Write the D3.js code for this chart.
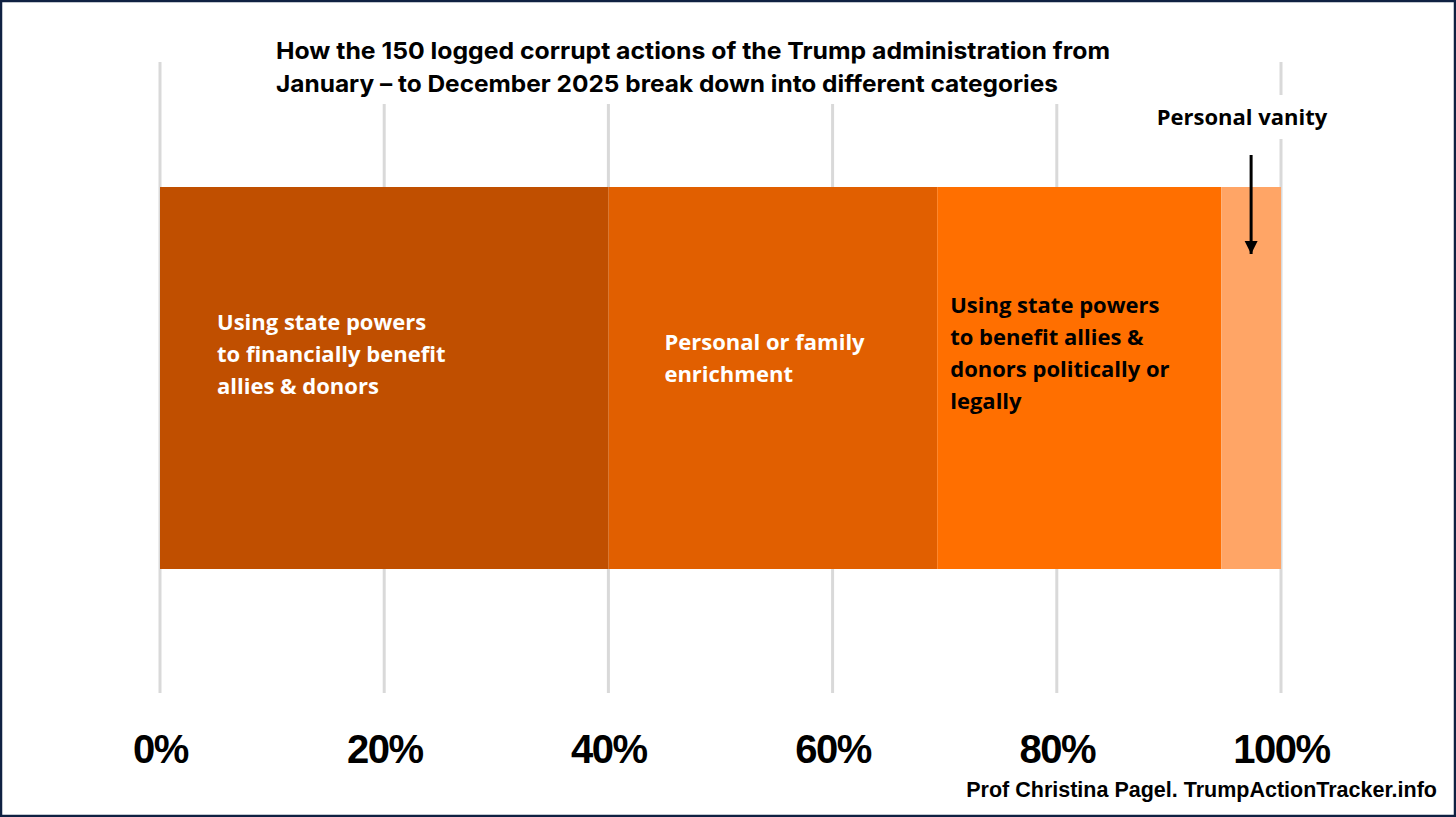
<!DOCTYPE html>
<html>
<head>
<meta charset="utf-8">
<script src="https://cdn.jsdelivr.net/npm/d3@7"></script>
<style>
  html, body { margin: 0; padding: 0; background: #fff; }
  svg { display: block; }
</style>
</head>
<body>
<div id="chart_container"></div>
<script>
// Data
const categories = [
  "Using state powers to financially benefit allies & donors",
  "Personal or family enrichment",
  "Using state powers to benefit allies & donors politically or legally",
  "Personal vanity"
]
const counts = [60, 44, 38, 8]
const labelLines = [
  ["Using state powers", "to financially benefit", "allies & donors"],
  ["Personal or family", "enrichment"],
  ["Using state powers", "to benefit allies &", "donors politically or", "legally"],
  []
]
const tickValues = [0, 20, 40, 60, 80, 100]
const tickLabels = ["0%", "20%", "40%", "60%", "80%", "100%"]
const colors = ["#c04f00", "#e15f00", "#ff6f00", "#ffa566"]
const textColors = ["#ffffff", "#ffffff", "#000000", "#000000"]
const titleLines = [
  "How the 150 logged corrupt actions of the Trump administration from",
  "January \u2013 to December 2025 break down into different categories"
]

const W = 1456, H = 817
const barTop = 187, barBottom = 569
const gridTop = 62, gridBottom = 693
const labelFont = "'Open Sans', 'Noto Sans', sans-serif"
const labelSize = "22px"

const total = d3.sum(counts)
let acc = 0
const segments = counts.map((c, i) => {
  const s = { i, start: acc / total * 100, end: (acc + c) / total * 100 }
  acc += c
  return s
})

const x = d3.scaleLinear().domain([0, 100]).range([160, 1281])

const svg = d3.select("#chart_container").append("svg")
  .attr("width", W)
  .attr("height", H)

svg.append("rect")
  .attr("width", W).attr("height", H)
  .attr("fill", "#fff")

// gridlines
svg.selectAll(".grid")
  .data(tickValues)
  .join("line")
  .attr("x1", d => x(d)).attr("x2", d => x(d))
  .attr("y1", gridTop).attr("y2", gridBottom)
  .attr("stroke", "#d9d9d9")
  .attr("stroke-width", 3)

// bars
svg.selectAll(".seg")
  .data(segments)
  .join("rect")
  .attr("x", d => x(d.start))
  .attr("y", barTop)
  .attr("width", d => x(d.end) - x(d.start))
  .attr("height", barBottom - barTop)
  .attr("fill", d => colors[d.i])

// labels in bars
const labelPos = [
  { dx: 57, y: 330 },
  { dx: 56, y: 350 },
  { dx: 13, y: 313 }
]
segments.forEach(d => {
  if (!labelLines[d.i].length) return
  const t = svg.append("text")
    .attr("x", x(d.start) + labelPos[d.i].dx)
    .attr("y", labelPos[d.i].y)
    .attr("fill", textColors[d.i])
    .style("font-family", labelFont)
    .style("font-size", labelSize)
    .style("font-weight", "bold")
  labelLines[d.i].forEach((l, k) => {
    t.append("tspan")
      .attr("x", x(d.start) + labelPos[d.i].dx)
      .attr("dy", k === 0 ? 0 : 32)
      .text(l)
  })
})

// x axis
const xAxis = svg.append("g")
  .attr("transform", `translate(0, ${gridBottom})`)
  .call(d3.axisBottom(x)
    .tickValues(tickValues)
    .tickFormat((d, i) => tickLabels[i])
    .tickSize(0)
    .tickPadding(42))
xAxis.select(".domain").remove()
xAxis.selectAll(".tick text")
  .attr("fill", "#000")
  .style("font-family", "'Liberation Sans', Arial, sans-serif")
  .style("font-size", "40px")
  .style("font-weight", "bold")
  .style("letter-spacing", "-1.5px")

// title with white background hiding gridlines
const titleG = svg.append("g")
const titleBg = titleG.append("rect").attr("fill", "#fff")
const title = titleG.append("text")
  .attr("x", 276)
  .attr("y", 59)
  .style("font-family", "Inter, 'Noto Sans', sans-serif")
  .style("font-size", "23.5px")
  .style("font-weight", "bold")
  .attr("fill", "#000")
const titleWidths = [834, 782]
titleLines.forEach((l, k) => {
  title.append("tspan")
    .attr("x", 276)
    .attr("dy", k === 0 ? 0 : 33)
    .attr("textLength", titleWidths[k])
    .attr("lengthAdjust", "spacingAndGlyphs")
    .text(l)
})
const tb = title.node().getBBox()
titleBg.attr("x", tb.x - 6).attr("y", tb.y - 4).attr("width", tb.width + 12).attr("height", tb.height + 10)

// personal vanity annotation
const vanSeg = segments[3]
const vx = x((vanSeg.start + vanSeg.end) / 2)
const vanG = svg.append("g")
const vanBg = vanG.append("rect").attr("fill", "#fff")
const van = vanG.append("text")
  .attr("x", 1242)
  .attr("y", 125)
  .attr("text-anchor", "middle")
  .style("font-family", labelFont)
  .style("font-size", labelSize)
  .style("font-weight", "bold")
  .attr("fill", "#000")
  .text(categories[3])
const vb = van.node().getBBox()
vanBg.attr("x", vb.x - 6).attr("y", vb.y - 6).attr("width", vb.width + 12).attr("height", vb.height + 14)

svg.append("defs").append("marker")
  .attr("id", "arrow")
  .attr("viewBox", "0 0 10 10")
  .attr("refX", 10).attr("refY", 5)
  .attr("markerWidth", 4.5).attr("markerHeight", 4.5)
  .attr("orient", "auto")
  .append("path")
  .attr("d", "M0,0 L10,5 L0,10 Z")
  .attr("fill", "#000")

svg.append("line")
  .attr("x1", vx).attr("x2", vx)
  .attr("y1", 155).attr("y2", 254)
  .attr("stroke", "#000")
  .attr("stroke-width", 3)
  .attr("marker-end", "url(#arrow)")

// credit
svg.append("text")
  .attr("x", 1437)
  .attr("y", 797)
  .attr("text-anchor", "end")
  .style("font-family", "'Liberation Sans', Arial, sans-serif")
  .style("font-size", "21.5px")
  .style("font-weight", "bold")
  .attr("fill", "#000")
  .text("Prof Christina Pagel. TrumpActionTracker.info")

// frame
svg.append("rect")
  .attr("x", 1).attr("y", 1)
  .attr("width", W - 2).attr("height", H - 2)
  .attr("fill", "none")
  .attr("stroke", "#0f2142")
  .attr("stroke-width", 2.5)
</script>
</body>
</html>
